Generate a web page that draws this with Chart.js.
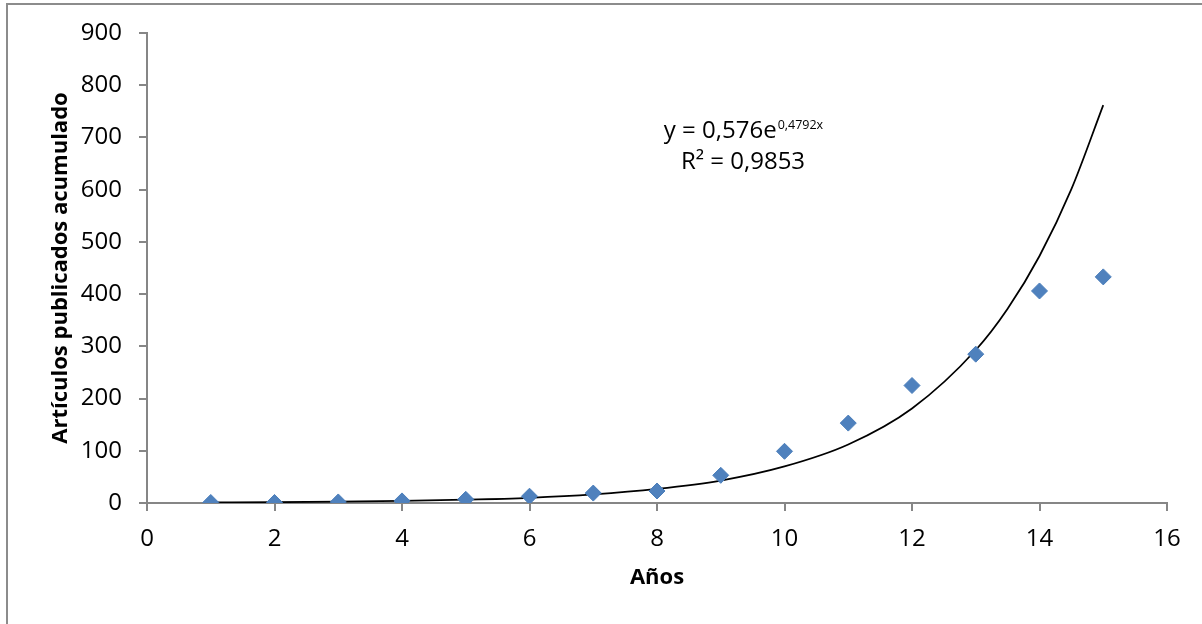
<!DOCTYPE html>
<html>
<head>
<meta charset="utf-8">
<script src="https://cdn.jsdelivr.net/npm/chart.js@4/dist/chart.umd.min.js"></script>
<style>
    html, body { margin: 0; padding: 0; background: #fff; }
    #wrap { position: relative; width: 1202px; height: 624px; }
</style>
</head>
<body>
<div id="wrap"><canvas id="chart" width="1202" height="624"></canvas></div>
<script>
// Años (x) and artículos publicados acumulados (y)
const years = [1, 2, 3, 4, 5, 6, 7, 8, 9, 10, 11, 12, 13, 14, 15];
const articles = [1, 1, 2, 4, 7, 13, 19, 23, 53, 99, 153, 225, 285, 406, 433];

// Exponential trendline
const trendYears = [1, 2, 3, 4, 5, 6, 7, 8, 9, 10, 11, 12, 13, 13.5, 14, 14.5, 15];
const trendValues = [1, 1.5, 2.4, 3.9, 6.3, 10, 16.5, 27, 43, 70, 112, 181, 293, 372, 473, 601, 762];

const equationLine1 = 'y = 0,576e';
const equationSup = '0,4792x';
const equationLine2 = 'R² = 0,9853';

const axisGray = '#868686';
const markerBlue = '#4F81BD';
const fontFamily = '"Open Sans", "Noto Sans", sans-serif';

// Frame around the chart (left and top edges visible)
const framePlugin = {
    id: 'frame',
    beforeDraw(chart) {
        const ctx = chart.ctx;
        ctx.save();
        ctx.fillStyle = '#fff';
        ctx.fillRect(0, 0, chart.width, chart.height);
        ctx.strokeStyle = '#8c8c8c';
        ctx.lineWidth = 2;
        ctx.beginPath();
        ctx.moveTo(7, chart.height);
        ctx.lineTo(7, 4);
        ctx.lineTo(chart.width, 4);
        ctx.stroke();
        ctx.restore();
    }
};

// Trendline equation label
const equationPlugin = {
    id: 'equation',
    afterDatasetsDraw(chart) {
        const ctx = chart.ctx;
        const cx = 743;
        ctx.save();
        ctx.fillStyle = '#000';
        ctx.textBaseline = 'alphabetic';
        ctx.font = '24px ' + fontFamily;
        const w1 = ctx.measureText(equationLine1).width;
        ctx.font = '12.5px ' + fontFamily;
        const ws = ctx.measureText(equationSup).width;
        const left = cx - (w1 + ws) / 2;
        ctx.font = '24px ' + fontFamily;
        ctx.textAlign = 'left';
        ctx.fillText(equationLine1, left, 138);
        ctx.font = '12.5px ' + fontFamily;
        ctx.fillText(equationSup, left + w1 + 1, 129);
        ctx.font = '24px ' + fontFamily;
        ctx.textAlign = 'center';
        ctx.fillText(equationLine2, cx, 169);
        ctx.restore();
    }
};

const ctx = document.getElementById('chart').getContext('2d');
new Chart(ctx, {
    type: 'scatter',
    data: {
        datasets: [
            {
                label: 'Tendencia',
                type: 'line',
                data: trendYears.map((x, i) => ({ x: x, y: trendValues[i] })),
                borderColor: '#000',
                borderWidth: 1.75,
                pointRadius: 0,
                fill: false,
                cubicInterpolationMode: 'monotone',
                order: 1
            },
            {
                label: 'Artículos',
                data: years.map((x, i) => ({ x: x, y: articles[i] })),
                pointStyle: 'rectRot',
                pointRadius: 8,
                pointBackgroundColor: markerBlue,
                pointBorderColor: '#4A7EBB',
                pointBorderWidth: 1,
                order: 0
            }
        ]
    },
    options: {
        responsive: false,
        animation: false,
        layout: { padding: { left: 0, top: 33, right: 35, bottom: 0 } },
        plugins: {
            legend: { display: false },
            tooltip: { enabled: false }
        },
        scales: {
            x: {
                type: 'linear',
                min: 0,
                max: 16,
                ticks: {
                    stepSize: 2,
                    color: '#000',
                    padding: 14,
                    font: { family: fontFamily, size: 24 }
                },
                grid: { drawOnChartArea: false, color: axisGray, tickLength: 8, lineWidth: 2 },
                border: { color: axisGray, width: 2 },
                title: {
                    display: true,
                    text: 'Años',
                    color: '#000',
                    font: { family: fontFamily, size: 22, weight: 'bold' },
                    padding: { top: 0, bottom: 33 }
                },
                afterFit(scale) { scale.height = 121; }
            },
            y: {
                min: 0,
                max: 900,
                ticks: {
                    stepSize: 100,
                    color: '#000',
                    padding: 17,
                    font: { family: fontFamily, size: 24 }
                },
                grid: { drawOnChartArea: false, color: axisGray, tickLength: 8, lineWidth: 2 },
                border: { color: axisGray, width: 2 },
                title: {
                    display: true,
                    text: 'Artículos publicados acumulado',
                    color: '#000',
                    font: { family: fontFamily, size: 22, weight: 'bold' },
                    padding: { top: 48, bottom: 0 }
                },
                afterFit(scale) { scale.width = 147; }
            }
        }
    },
    plugins: [framePlugin, equationPlugin]
});
</script>
</body>
</html>
